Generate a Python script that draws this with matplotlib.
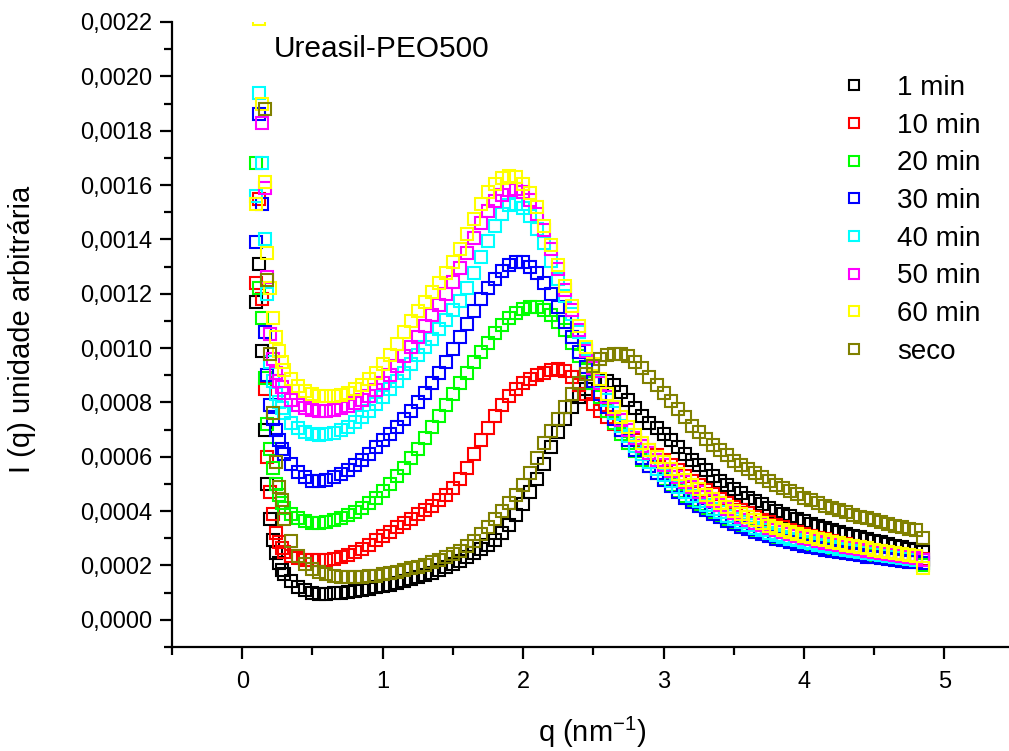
import numpy as np
import matplotlib
matplotlib.use("Agg")
import matplotlib.pyplot as plt
from matplotlib.ticker import MultipleLocator, FuncFormatter

plt.rcParams['font.family'] = ['Liberation Sans', 'DejaVu Sans']
plt.rcParams['mathtext.default'] = 'regular'

nan = np.nan
# shared q grid (nm^-1)
q = [0.10, 0.12, 0.14, 0.16, 0.18, 0.20, 0.22, 0.24, 0.26, 0.28, 0.30,
     0.35, 0.40, 0.45, 0.50, 0.55, 0.60, 0.65, 0.70, 0.75, 0.80, 0.85, 0.90, 0.95, 1.00,
     1.05, 1.10, 1.15, 1.20, 1.25, 1.30, 1.35, 1.40, 1.45, 1.50,
     1.55, 1.60, 1.65, 1.70, 1.75, 1.80, 1.85, 1.90, 1.95, 2.00,
     2.05, 2.10, 2.15, 2.20, 2.25, 2.30, 2.35, 2.40, 2.45, 2.50,
     2.55, 2.60, 2.65, 2.70, 2.75, 2.80, 2.85, 2.90, 2.95, 3.00,
     3.05, 3.10, 3.15, 3.20, 3.25, 3.30, 3.35, 3.40, 3.45, 3.50,
     3.55, 3.60, 3.65, 3.70, 3.75, 3.80, 3.85, 3.90, 3.95, 4.00,
     4.05, 4.10, 4.15, 4.20, 4.25, 4.30, 4.35, 4.40, 4.45, 4.50,
     4.55, 4.60, 4.65, 4.70, 4.75, 4.80, 4.85]

# intensities in units of 1e-4
i_1min = [11.7, 13.1, 9.9, 7.0, 5.0, 3.7, 2.95, 2.45, 2.1, 1.85, 1.68,
          1.42, 1.22, 1.1, 1.0, 0.95, 0.95, 0.97, 1.0, 1.02, 1.05, 1.1, 1.15, 1.2, 1.25,
          1.3, 1.37, 1.44, 1.51, 1.58, 1.66, 1.74, 1.83, 1.93, 2.04,
          2.16, 2.3, 2.45, 2.6, 2.75, 2.95, 3.2, 3.5, 3.85, 4.25,
          4.7, 5.2, 5.75, 6.35, 6.9, 7.4, 7.85, 8.2, 8.5, 8.7,
          8.8, 8.8, 8.65, 8.4, 8.1, 7.8, 7.5, 7.25, 7.05, 6.85,
          6.6, 6.35, 6.1, 5.9, 5.7, 5.5, 5.3, 5.12, 4.95, 4.8,
          4.65, 4.5, 4.37, 4.25, 4.13, 4.02, 3.91, 3.81, 3.71, 3.62,
          3.54, 3.46, 3.38, 3.3, 3.23, 3.16, 3.1, 3.03, 2.97, 2.91,
          2.85, 2.79, 2.73, 2.67, 2.62, 2.56, 2.5]
i_10min = [12.4, 15.5, 11.8, 8.5, 6.0, 4.7, 3.9, 3.2, 2.85, 2.65, 2.5,
           2.35, 2.27, 2.22, 2.2, 2.2, 2.22, 2.25, 2.3, 2.4, 2.5, 2.62, 2.76, 2.92, 3.1,
           3.25, 3.4, 3.55, 3.72, 3.9, 4.05, 4.2, 4.4, 4.6, 4.85,
           5.2, 5.6, 6.1, 6.6, 7.05, 7.5, 7.9, 8.25, 8.5, 8.7,
           8.85, 9.0, 9.1, 9.2, 9.22, 9.15, 8.95, 8.65, 8.3, 7.95,
           7.7, 7.45, 7.2, 7.0, 6.8, 6.6, 6.4, 6.25, 6.05, 5.9,
           5.7, 5.5, 5.3, 5.12, 4.95, 4.78, 4.62, 4.46, 4.3, 4.17,
           4.04, 3.92, 3.8, 3.69, 3.59, 3.49, 3.4, 3.31, 3.23, 3.16,
           3.09, 3.02, 2.96, 2.9, 2.84, 2.78, 2.73, 2.68, 2.63, 2.58,
           2.53, 2.49, 2.45, 2.41, 2.37, 2.33, 2.25]
i_20min = [16.8, 12.2, 11.1, 8.9, 7.2, 6.3, 5.6, 5.0, 4.6, 4.3, 4.1,
           3.9, 3.75, 3.62, 3.55, 3.55, 3.6, 3.67, 3.75, 3.85, 3.97, 4.12, 4.3, 4.5, 4.75,
           5.0, 5.3, 5.6, 5.95, 6.3, 6.7, 7.1, 7.5, 7.9, 8.3,
           8.7, 9.1, 9.5, 9.85, 10.2, 10.55, 10.85, 11.1, 11.3, 11.45,
           11.5, 11.5, 11.4, 11.2, 10.95, 10.65, 10.2, 9.7, 9.2, 8.7,
           8.2, 7.7, 7.25, 6.85, 6.5, 6.2, 5.9, 5.65, 5.4, 5.2,
           4.95, 4.75, 4.55, 4.4, 4.25, 4.1, 3.95, 3.82, 3.7, 3.59,
           3.48, 3.38, 3.29, 3.2, 3.12, 3.04, 2.97, 2.9, 2.84, 2.78,
           2.73, 2.68, 2.63, 2.58, 2.54, 2.5, 2.46, 2.42, 2.38, 2.35,
           2.31, 2.28, 2.25, 2.22, 2.19, 2.16, 2.0]
i_30min = [13.9, 18.6, 15.3, 10.6, 9.0, 7.9, 7.4, 7.0, 6.6, 6.3, 6.1,
           5.75, 5.45, 5.25, 5.12, 5.1, 5.15, 5.25, 5.35, 5.5, 5.7, 5.9, 6.1, 6.35, 6.6,
           6.85, 7.1, 7.4, 7.7, 8.0, 8.35, 8.7, 9.1, 9.5, 9.95,
           10.4, 10.9, 11.35, 11.8, 12.2, 12.55, 12.85, 13.05, 13.15, 13.15,
           13.0, 12.75, 12.4, 12.0, 11.5, 10.95, 10.4, 9.85, 9.3, 8.8,
           8.3, 7.85, 7.4, 7.0, 6.6, 6.25, 5.95, 5.65, 5.4, 5.15,
           4.92, 4.7, 4.5, 4.35, 4.2, 4.05, 3.9, 3.77, 3.65, 3.54,
           3.43, 3.33, 3.24, 3.15, 3.07, 2.99, 2.92, 2.85, 2.79, 2.73,
           2.68, 2.63, 2.58, 2.53, 2.49, 2.45, 2.41, 2.37, 2.33, 2.3,
           2.26, 2.23, 2.2, 2.17, 2.14, 2.11, 2.08]
i_40min = [15.6, 19.4, 16.8, 14.0, 12.0, 9.5, 8.8, 8.3, 8.0, 7.8, 7.6,
           7.25, 7.05, 6.9, 6.82, 6.8, 6.82, 6.88, 6.97, 7.1, 7.27, 7.47, 7.7, 7.95, 8.2,
           8.5, 8.8, 9.1, 9.4, 9.75, 10.05, 10.35, 10.7, 11.05, 11.4,
           11.75, 12.2, 12.75, 13.35, 13.95, 14.5, 14.95, 15.25, 15.3, 15.15,
           14.85, 14.4, 13.85, 13.2, 12.55, 11.9, 11.25, 10.6, 9.95, 9.35,
           8.75, 8.1, 7.6, 7.15, 6.75, 6.4, 6.1, 5.82, 5.56, 5.32,
           5.1, 4.9, 4.7, 4.54, 4.38, 4.23, 4.08, 3.95, 3.82, 3.7,
           3.59, 3.49, 3.39, 3.3, 3.21, 3.13, 3.06, 2.99, 2.93, 2.87,
           2.82, 2.77, 2.72, 2.67, 2.62, 2.58, 2.54, 2.5, 2.46, 2.42,
           2.38, 2.34, 2.31, 2.28, 2.25, 2.22, 2.19]
i_50min = [nan, nan, 18.3, 15.9, 12.6, 10.5, 9.6, 9.1, 8.8, 8.55, 8.35,
           8.1, 7.9, 7.8, 7.72, 7.7, 7.7, 7.72, 7.78, 7.87, 7.97, 8.1, 8.25, 8.45, 8.7,
           9.0, 9.35, 9.7, 10.05, 10.4, 10.8, 11.2, 11.6, 12.0, 12.45,
           12.95, 13.5, 14.05, 14.6, 15.05, 15.4, 15.65, 15.8, 15.85, 15.75,
           15.45, 14.95, 14.35, 13.65, 12.9, 12.15, 11.4, 10.65, 9.9, 9.25,
           8.7, 8.2, 7.75, 7.35, 7.0, 6.7, 6.4, 6.15, 5.9, 5.7,
           5.47, 5.27, 5.07, 4.87, 4.72, 4.52, 4.37, 4.22, 4.07, 3.92,
           3.8, 3.69, 3.58, 3.48, 3.39, 3.3, 3.22, 3.15, 3.08, 3.02,
           2.96, 2.9, 2.84, 2.79, 2.74, 2.69, 2.64, 2.59, 2.55, 2.5,
           2.46, 2.42, 2.38, 2.34, 2.3, 2.26, 2.22]
i_60min = [15.3, 22.1, 19.0, 16.1, 13.5, 12.2, 11.1, 10.4, 9.9, 9.5, 9.2,
           8.85, 8.6, 8.42, 8.3, 8.25, 8.22, 8.22, 8.27, 8.35, 8.48, 8.65, 8.85, 9.1, 9.4,
           9.75, 10.15, 10.6, 11.0, 11.35, 11.7, 12.05, 12.4, 12.75, 13.15,
           13.65, 14.2, 14.75, 15.3, 15.75, 16.05, 16.25, 16.35, 16.3, 16.05,
           15.7, 15.2, 14.5, 13.8, 13.05, 12.3, 11.55, 10.8, 10.05, 9.4,
           8.85, 8.3, 7.85, 7.45, 7.1, 6.8, 6.5, 6.25, 6.0, 5.8,
           5.55, 5.35, 5.15, 4.95, 4.8, 4.6, 4.45, 4.3, 4.15, 4.0,
           3.88, 3.77, 3.66, 3.56, 3.47, 3.38, 3.3, 3.23, 3.16, 3.1,
           3.04, 2.98, 2.92, 2.87, 2.82, 2.77, 2.72, 2.67, 2.63, 2.58,
           2.54, 2.5, 2.46, 2.42, 2.38, 2.34, 1.9]
i_seco = [nan, nan, nan, 18.8, 12.5, 9.8, 7.6, 5.8, 4.9, 4.4, 3.7,
          2.9, 2.35, 2.05, 1.88, 1.75, 1.67, 1.62, 1.58, 1.56, 1.56, 1.57, 1.6, 1.63, 1.67,
          1.72, 1.77, 1.83, 1.89, 1.96, 2.03, 2.11, 2.2, 2.3, 2.41,
          2.55, 2.7, 2.9, 3.15, 3.4, 3.7, 4.0, 4.3, 4.6, 4.95,
          5.4, 5.95, 6.5, 6.95, 7.4, 7.85, 8.3, 8.7, 9.05, 9.35,
          9.6, 9.75, 9.8, 9.8, 9.7, 9.5, 9.25, 8.95, 8.65, 8.35,
          8.05, 7.75, 7.45, 7.15, 6.9, 6.65, 6.45, 6.25, 6.05, 5.85,
          5.7, 5.55, 5.4, 5.25, 5.1, 4.97, 4.85, 4.73, 4.62, 4.5,
          4.4, 4.3, 4.2, 4.12, 4.03, 3.95, 3.87, 3.8, 3.73, 3.66,
          3.6, 3.53, 3.47, 3.41, 3.36, 3.3, 3.0]

labels = ['1 min', '10 min', '20 min', '30 min', '40 min', '50 min', '60 min', 'seco']
colors = ['#000000', '#ff0000', '#00ff00', '#0000ff', '#00ffff', '#ff00ff', '#ffff00', '#808000']
series = [i_1min, i_10min, i_20min, i_30min, i_40min, i_50min, i_60min, i_seco]

W, H = 1009, 751
fig = plt.figure(figsize=(W / 100, H / 100), dpi=100)
ax = fig.add_axes([172 / W, 1 - 647 / H, (W - 172) / W, (647 - 22) / H])

qa = np.array(q)
for vals, lab, col in zip(series, labels, colors):
    ax.plot(qa, np.array(vals) * 1e-4, ls='none', marker='s', ms=8, mfc='none',
            mec=col, mew=1.5, label=lab)

ax.set_xlim(-0.5, 5.46)
ax.set_ylim(-0.0001, 0.0022)
ax.spines['top'].set_visible(False)
ax.spines['right'].set_visible(False)
for s in ('left', 'bottom'):
    ax.spines[s].set_linewidth(1.6)

ax.xaxis.set_major_locator(MultipleLocator(1))
ax.xaxis.set_minor_locator(MultipleLocator(0.5))
ax.yaxis.set_major_locator(MultipleLocator(0.0002))
ax.yaxis.set_minor_locator(MultipleLocator(0.0001))
ax.xaxis.set_major_formatter(FuncFormatter(lambda v, p: f"{v:g}"))
ax.yaxis.set_major_formatter(FuncFormatter(lambda v, p: f"{v:.4f}".replace('.', ',')))
ax.tick_params(which='major', direction='out', length=8.5, width=1.6, labelsize=17)
ax.tick_params(which='minor', direction='out', length=5.5, width=1.6)
ax.tick_params(axis='y', which='major', pad=5.8)
ax.tick_params(axis='x', which='major', pad=9)

leg = ax.legend(loc='upper left', bbox_to_anchor=(840 / W, 1 - 75 / H),
                bbox_transform=fig.transFigure, frameon=False, fontsize=20,
                handlelength=1.0, handletextpad=1.05, labelspacing=0.42,
                borderpad=0, borderaxespad=0, markerscale=0.95)

fig.text(274 / W, 1 - 56.7 / H, 'Ureasil-PEO500', fontsize=21.5, ha='left', va='baseline')
fig.text(592 / W, 1 - 742 / H, 'q (nm$^{-1}$)', fontsize=21, ha='center', va='baseline')
fig.text(22 / W, 1 - 329 / H, 'I (q) unidade arbitrária', fontsize=21, rotation=90,
         ha='center', va='center')

fig.savefig('out.png', dpi=100)
